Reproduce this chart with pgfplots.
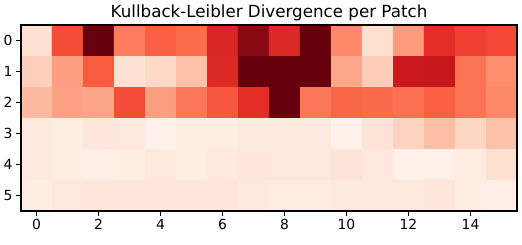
\documentclass[border=0pt]{standalone}
\usepackage{fontspec}
\setmainfont{DejaVu Sans}
\usepackage{pgfplots}
\pgfplotsset{compat=1.18}
\begin{document}
\begin{tikzpicture}
\begin{axis}[
  at={(0,0)}, anchor=south west,
  scale only axis, width=496pt, height=186pt,
  xmin=-0.5, xmax=15.5, ymin=-0.5, ymax=5.5,
  y dir=reverse,
  xtick={0,2,...,14}, ytick={0,1,...,5},
  tick align=outside, tick pos=left,
  major tick length=4.9pt,
  every tick/.style={black, line width=1.1pt},
  axis line style={line width=1.1pt},
  /pgf/number format/assume math mode=true,
  ticklabel style={font=\fontsize{13.9}{14}\selectfont},
  every axis title shift=0pt,
  title={Kullback-Leibler Divergence per Patch},
  title style={font=\fontsize{16.7}{17}\selectfont, at={(0.5,1)}, anchor=base, yshift=7.5pt},
  colormap={reds}{rgb255(0)=(255,245,240) rgb255(1)=(254,224,210) rgb255(2)=(252,187,161) rgb255(3)=(252,146,114) rgb255(4)=(251,106,74) rgb255(5)=(239,59,44) rgb255(6)=(203,24,29) rgb255(7)=(165,15,21) rgb255(8)=(103,0,13)},
  point meta min=0, point meta max=1,
  axis on top,
]
\addplot[matrix plot*, mesh/cols=16, point meta=explicit] table[meta=c] {
x y c
0 0 0.12
1 0 0.58
2 0 1.00
3 0 0.44
4 0 0.53
5 0 0.49
6 0 0.70
7 0 0.93
8 0 0.69
9 0 1.00
10 0 0.40
11 0 0.13
12 0 0.35
13 0 0.67
14 0 0.61
15 0 0.59
0 1 0.18
1 1 0.34
2 1 0.54
3 1 0.12
4 1 0.15
5 1 0.23
6 1 0.69
7 1 1.00
8 1 1.00
9 1 1.00
10 1 0.31
11 1 0.19
12 1 0.75
13 1 0.77
14 1 0.47
15 1 0.39
0 2 0.25
1 2 0.33
2 2 0.32
3 2 0.58
4 2 0.34
5 2 0.46
6 2 0.55
7 2 0.67
8 2 1.00
9 2 0.46
10 2 0.51
11 2 0.50
12 2 0.48
13 2 0.53
14 2 0.47
15 2 0.40
0 3 0.07
1 3 0.05
2 3 0.09
3 3 0.08
4 3 0.03
5 3 0.05
6 3 0.05
7 3 0.07
8 3 0.07
9 3 0.07
10 3 0.03
11 3 0.11
12 3 0.17
13 3 0.24
14 3 0.16
15 3 0.23
0 4 0.07
1 4 0.05
2 4 0.04
3 4 0.05
4 4 0.07
5 4 0.05
6 4 0.07
7 4 0.09
8 4 0.08
9 4 0.08
10 4 0.10
11 4 0.08
12 4 0.03
13 4 0.03
14 4 0.05
15 4 0.13
0 5 0.05
1 5 0.08
2 5 0.09
3 5 0.09
4 5 0.09
5 5 0.09
6 5 0.09
7 5 0.07
8 5 0.06
9 5 0.06
10 5 0.07
11 5 0.08
12 5 0.08
13 5 0.09
14 5 0.05
15 5 0.04
};
\end{axis}
\pgfresetboundingbox
\path (-21pt,-34pt) rectangle (501pt,211pt);
\end{tikzpicture}
\end{document}
